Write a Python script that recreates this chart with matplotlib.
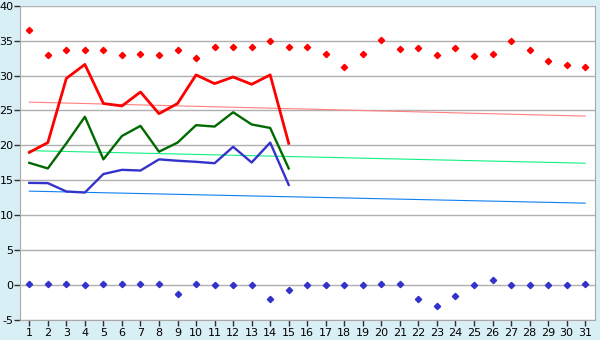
import matplotlib
matplotlib.use('Agg')
import matplotlib.pyplot as plt
import numpy as np

plt.rcParams['axes.unicode_minus'] = False

days = list(range(1, 32))

# daily values, first half of the month
t_max = [19.0, 20.4, 29.6, 31.6, 26.0, 25.65, 27.65, 24.55, 26.0, 30.1,
         28.85, 29.8, 28.75, 30.1, 20.3]
t_mean = [17.5, 16.7, 20.3, 24.1, 18.0, 21.35, 22.8, 19.1, 20.4, 22.9,
          22.7, 24.75, 23.0, 22.5, 16.7]
t_min = [14.63, 14.6, 13.4, 13.25, 15.9, 16.5, 16.4, 18.0, 17.8, 17.65,
         17.45, 19.8, 17.55, 20.4, 14.35]

# record values per day
rec_max = [36.6, 32.9, 33.6, 33.6, 33.6, 32.9, 33.1, 32.9, 33.6, 32.5,
           34.05, 34.05, 34.05, 34.9, 34.05, 34.05, 33.05, 31.2, 33.05, 35.05,
           33.75, 33.9, 32.9, 33.9, 32.75, 33.05, 34.9, 33.6, 32.05, 31.5, 31.2]
rec_min = [0.1, 0.1, 0.1, 0.0, 0.1, 0.1, 0.1, 0.1, -1.3, 0.1,
           0.0, 0.0, 0.0, -2.0, -0.7, 0.0, 0.0, 0.0, 0.0, 0.1,
           0.1, -2.0, -3.0, -1.6, 0.0, 0.7, 0.0, 0.0, 0.0, 0.0, 0.1]

# long-term averages, start and end of month
avg_max = [26.2, 24.2]
avg_mean = [19.25, 17.45]
avg_min = [13.45, 11.73]

fig = plt.figure(figsize=(6, 3.4), dpi=100)
fig.patch.set_facecolor('#d9eff6')
ax = fig.add_axes([0.034, 0.059, 0.958, 0.924])
ax.set_facecolor('white')

ax.set_xlim(0.52, 31.54)
ax.set_ylim(-5, 40)
ax.set_yticks(np.arange(-5, 41, 5))
ax.set_xticks(days)
ax.grid(axis='y', color='#b0b0b0', linewidth=1.0)
ax.set_axisbelow(True)

ends = [days[0], days[-1]]
ax.plot(ends, avg_max, color='#ff8080', linewidth=0.8)
ax.plot(ends, avg_mean, color='#10f080', linewidth=0.8)
ax.plot(ends, avg_min, color='#1080f0', linewidth=0.8)

n = len(t_max)
ax.plot(days[:n], t_max, color='#ff0000', linewidth=2.0)
ax.plot(days[:n], t_mean, color='#006a00', linewidth=1.7)
ax.plot(days[:n], t_min, color='#3333cc', linewidth=1.7)

ax.plot(days, rec_max, linestyle='none', marker='D', markersize=3.2,
        color='#ff0000')
ax.plot(days, rec_min, linestyle='none', marker='D', markersize=3.2,
        color='#3333cc')

for s in ax.spines.values():
    s.set_color('#a8a8a8')
ax.spines['top'].set_visible(False)

ax.tick_params(axis='both', labelsize=8, length=4, width=1,
               color='#303030', pad=2)
ax.tick_params(axis='y', pad=1)

fig.savefig('out.png', dpi=100, facecolor=fig.get_facecolor())
